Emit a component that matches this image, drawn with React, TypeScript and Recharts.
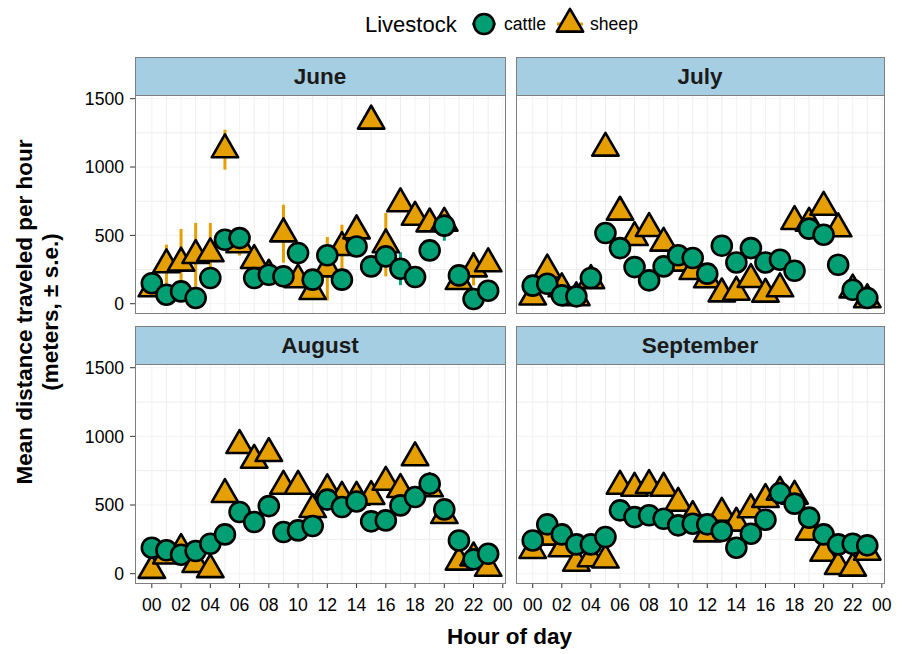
import React from 'react';
import { ScatterChart, Scatter, XAxis, YAxis, ErrorBar, CartesianGrid } from 'recharts';

// ---------- data ----------
const hours = [0, 1, 2, 3, 4, 5, 6, 7, 8, 9, 10, 11, 12, 13, 14, 15, 16, 17, 18, 19, 20, 21, 22, 23];

const juneCattle = [150, 66, 90, 42, 188, 468, 480, 188, 212, 200, 371, 176, 354, 176, 419, 273, 346, 256, 195, 390, 571, 207, 34, 95];
const juneCattleSE = [20, 15, 20, 15, 25, 30, 30, 20, 20, 20, 40, 30, 60, 25, 60, 30, 80, 120, 30, 30, 110, 30, 20, 20];
const juneSheep = [110, 286, 298, 354, 367, 1127, 432, 317, 210, 512, 176, 90, 256, 412, 534, 1337, 432, 732, 634, 585, 590, 163, 256, 293];
const juneSheepSE = [50, 146, 249, 237, 224, 146, 80, 60, 30, 212, 40, 50, 232, 166, 60, 30, 232, 60, 30, 40, 40, 40, 122, 60];

const julyCattle = [132, 146, 61, 54, 188, 517, 407, 268, 171, 273, 354, 334, 220, 424, 302, 407, 302, 322, 241, 549, 505, 285, 102, 42];
const julyCattleSE = [15, 15, 10, 10, 20, 20, 30, 20, 15, 20, 20, 20, 20, 20, 20, 20, 20, 20, 20, 40, 30, 20, 15, 10];
const julySheep = [50, 247, 110, 45, 170, 1139, 671, 485, 551, 444, 298, 236, 176, 73, 85, 178, 71, 110, 602, 590, 707, 549, 102, 30];
const julySheepSE = [15, 20, 15, 10, 15, 30, 30, 20, 20, 20, 20, 20, 20, 15, 15, 20, 15, 15, 30, 30, 30, 30, 15, 10];

const augustCattle = [189, 170, 138, 165, 218, 286, 449, 376, 492, 303, 315, 347, 539, 485, 526, 381, 388, 497, 558, 655, 468, 242, 104, 145];
const augustCattleSE = [15, 15, 15, 15, 15, 20, 20, 20, 20, 20, 20, 20, 20, 20, 20, 20, 20, 20, 20, 20, 20, 20, 15, 15];
const augustSheep = [25, 130, 177, 68, 30, 577, 934, 827, 876, 638, 638, 468, 612, 558, 558, 563, 667, 614, 845, 619, 424, 85, 116, 40];
const augustSheepSE = [15, 20, 20, 15, 10, 30, 30, 30, 30, 20, 20, 40, 20, 20, 20, 20, 20, 20, 30, 30, 30, 20, 20, 10];

const septemberCattle = [242, 359, 286, 213, 213, 267, 461, 412, 425, 400, 352, 364, 359, 310, 189, 291, 393, 587, 510, 408, 286, 213, 218, 206];
const septemberCattleSE = [15, 15, 15, 15, 15, 15, 20, 20, 20, 20, 20, 20, 20, 20, 20, 20, 20, 20, 20, 20, 20, 15, 15, 15];
const septemberSheep = [170, 267, 182, 77, 109, 100, 638, 623, 643, 623, 514, 417, 291, 441, 369, 466, 541, 594, 565, 303, 150, 53, 41, 157];
const septemberSheepSE = [20, 20, 15, 10, 15, 15, 30, 30, 20, 20, 20, 20, 20, 20, 20, 20, 20, 20, 20, 20, 20, 10, 10, 20];

const monthNames = ['June', 'July', 'August', 'September'];
const xTicks = [0, 2, 4, 6, 8, 10, 12, 14, 16, 18, 20, 22, 24];
const xGridMinor = [1, 3, 5, 7, 9, 11, 13, 15, 17, 19, 21, 23];
const yTicks = [0, 500, 1000, 1500];
const yGridMinor = [250, 750, 1250];
const legendTitle = 'Livestock';
const legendLabels = ['cattle', 'sheep'];
const xTitle = 'Hour of day';
const yTitle1 = 'Mean distance traveled per hour';
const yTitle2 = '(meters, \u00b1 s.e.)';

// ---------- style ----------
const W = 907;
const H = 654;
const FONT = '"Liberation Sans", Arial, Helvetica, sans-serif';
const CATTLE = '#009E73';
const SHEEP = '#E69F00';
const STRIP = '#A6CEE3';
const BORDER = '#7F7F7F';
const TITLE_SIZE = 22.5;
const xDomain: [number, number] = [-1.15, 24.15];
const yDomain: [number, number] = [-68, 1527];

const panels = [
  { name: monthNames[0], cattle: juneCattle, cattleSE: juneCattleSE, sheep: juneSheep, sheepSE: juneSheepSE, left: 135, top: 95, width: 370, height: 218, showY: true, showX: false },
  { name: monthNames[1], cattle: julyCattle, cattleSE: julyCattleSE, sheep: julySheep, sheepSE: julySheepSE, left: 516, top: 95, width: 368, height: 218, showY: false, showX: false },
  { name: monthNames[2], cattle: augustCattle, cattleSE: augustCattleSE, sheep: augustSheep, sheepSE: augustSheepSE, left: 135, top: 364, width: 370, height: 219, showY: true, showX: true },
  { name: monthNames[3], cattle: septemberCattle, cattleSE: septemberCattleSE, sheep: septemberSheep, sheepSE: septemberSheepSE, left: 516, top: 364, width: 368, height: 219, showY: false, showX: true },
];

const CircleShape = (props: any) => {
  const { cx, cy } = props;
  if (cx == null || cy == null) return <g />;
  return <circle cx={cx} cy={cy} r={10} fill={CATTLE} stroke="#000" strokeWidth={2.6} />;
};

const TriangleShape = (props: any) => {
  const { cx, cy } = props;
  if (cx == null || cy == null) return <g />;
  const R = 9.8;
  const pts = `${cx},${cy - 1.555 * R} ${cx + 1.347 * R},${cy + 0.778 * R} ${cx - 1.347 * R},${cy + 0.778 * R}`;
  return <polygon points={pts} fill={SHEEP} stroke="#000" strokeWidth={2.6} strokeLinejoin="round" />;
};

const NoShape = () => <g />;

const fmtHour = (v: number) => String(v % 24).padStart(2, '0');

function Panel(p: any) {
  const cattleData = hours.map((h, i) => ({ hour: h, value: p.cattle[i], se: p.cattleSE[i] }));
  const sheepData = hours.map((h, i) => ({ hour: h, value: p.sheep[i], se: p.sheepSE[i] }));
  const yAxisW = 60;
  const xAxisH = 40;
  const margin = {
    top: p.top,
    left: p.showY ? p.left - yAxisW : p.left,
    right: W - (p.left + p.width),
    bottom: H - (p.top + p.height) - (p.showX ? xAxisH : 0),
  };
  return (
    <div style={{ position: 'absolute', left: 0, top: 0 }}>
      <ScatterChart width={W} height={H} margin={margin}>
        <CartesianGrid horizontalValues={yGridMinor} verticalValues={xGridMinor} stroke="#EDEDED" strokeWidth={1} />
        <CartesianGrid horizontalValues={yTicks} verticalValues={xTicks} stroke="#F3F3F3" strokeWidth={1} />
        <XAxis
          type="number"
          dataKey="hour"
          domain={xDomain}
          ticks={xTicks}
          allowDataOverflow
          hide={!p.showX}
          height={xAxisH}
          tickFormatter={fmtHour}
          axisLine={false}
          tickLine={{ stroke: '#333', strokeWidth: 1 }}
          tickSize={5}
          tickMargin={11}
          interval={0}
          tick={{ fill: '#000', fontSize: 17.6, fontFamily: FONT }}
        />
        <YAxis
          type="number"
          dataKey="value"
          domain={yDomain}
          ticks={yTicks}
          allowDataOverflow
          hide={!p.showY}
          width={yAxisW}
          axisLine={false}
          tickLine={{ stroke: '#333', strokeWidth: 1 }}
          tickSize={5}
          tickMargin={6}
          interval={0}
          tick={{ fill: '#000', fontSize: 17.6, fontFamily: FONT }}
        />
        <Scatter data={sheepData} shape={NoShape} isAnimationActive={false}>
          <ErrorBar dataKey="se" direction="y" width={0} stroke={SHEEP} strokeWidth={3} />
        </Scatter>
        <Scatter data={cattleData} shape={NoShape} isAnimationActive={false}>
          <ErrorBar dataKey="se" direction="y" width={0} stroke={CATTLE} strokeWidth={3} />
        </Scatter>
        <Scatter data={sheepData} shape={TriangleShape} isAnimationActive={false} />
        <Scatter data={cattleData} shape={CircleShape} isAnimationActive={false} />
      </ScatterChart>
    </div>
  );
}

function Overlay() {
  return (
    <svg width={W} height={H} style={{ position: 'absolute', left: 0, top: 0, pointerEvents: 'none' }}>
      {panels.map((p) => (
        <g key={p.name}>
          <rect x={p.left + 0.5} y={p.top - 38 + 0.5} width={p.width} height={38} fill={STRIP} stroke={BORDER} strokeWidth={1} />
          <text x={p.left + p.width / 2} y={p.top - 19} textAnchor="middle" dominantBaseline="central" fontFamily={FONT} fontWeight="bold" fontSize={TITLE_SIZE} fill="#1a1a1a">
            {p.name}
          </text>
          <rect x={p.left + 0.5} y={p.top + 0.5} width={p.width} height={p.height} fill="none" stroke={BORDER} strokeWidth={1} />
        </g>
      ))}
      <text x={509.5} y={644} textAnchor="middle" fontFamily={FONT} fontWeight="bold" fontSize={TITLE_SIZE} fill="#000">{xTitle}</text>
      <g transform="translate(24, 312) rotate(-90)">
        <text x={0} y={0} textAnchor="middle" dominantBaseline="central" fontFamily={FONT} fontWeight="bold" fontSize={TITLE_SIZE} fill="#000">{yTitle1}</text>
      </g>
      <g transform="translate(50, 312) rotate(-90)">
        <text x={0} y={0} textAnchor="middle" dominantBaseline="central" fontFamily={FONT} fontWeight="bold" fontSize={TITLE_SIZE} fill="#000">{yTitle2}</text>
      </g>
      {/* legend */}
      <text x={365} y={32} fontFamily={FONT} fontSize={22} fill="#000">{legendTitle}</text>
      <line x1={472} y1={24} x2={496} y2={24} stroke={CATTLE} strokeWidth={3} />
      <circle cx={484} cy={24} r={10} fill={CATTLE} stroke="#000" strokeWidth={2.6} />
      <text x={504} y={30} fontFamily={FONT} fontSize={17.6} fill="#000">{legendLabels[0]}</text>
      <line x1={557} y1={24} x2={583} y2={24} stroke={SHEEP} strokeWidth={3} />
      <polygon points={`570,${24 - 15.2} ${583.2},${24 + 7.6} ${556.8},${24 + 7.6}`} fill={SHEEP} stroke="#000" strokeWidth={2.6} strokeLinejoin="round" />
      <text x={590} y={30} fontFamily={FONT} fontSize={17.6} fill="#000">{legendLabels[1]}</text>
    </svg>
  );
}

export default function App() {
  return (
    <div style={{ position: 'absolute', left: 0, top: 0, width: W, height: H, background: '#fff', fontFamily: FONT }}>
      {panels.map((p) => (
        <Panel key={p.name} {...p} />
      ))}
      <Overlay />
    </div>
  );
}
